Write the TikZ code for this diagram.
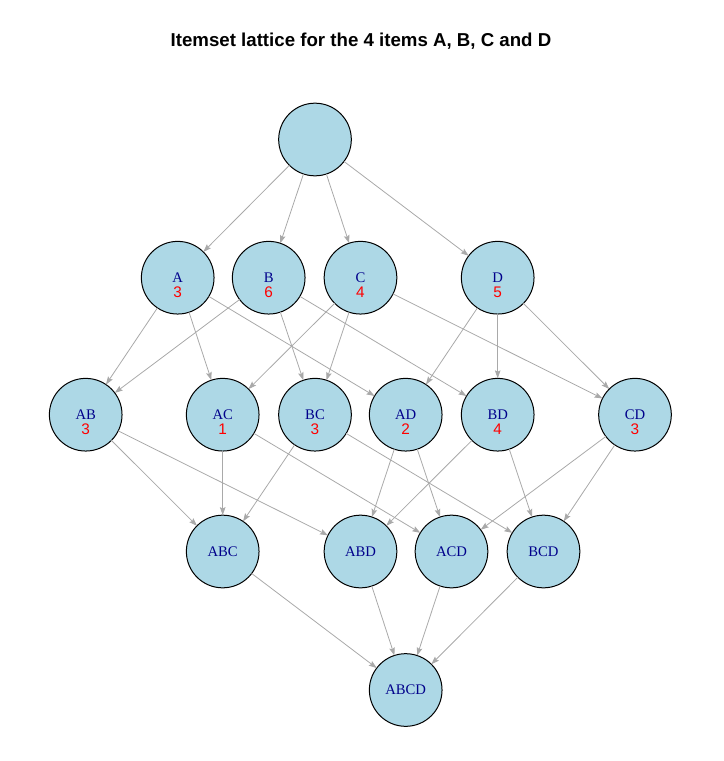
\documentclass[tikz,border=0pt]{standalone}
\usepackage{fontspec}
\setmainfont{Liberation Serif}
\setsansfont{Liberation Sans}
\usetikzlibrary{arrows.meta}
\definecolor{nodeblue}{RGB}{173, 216, 230}
\definecolor{labelblue}{RGB}{0, 0, 139}
\definecolor{edgegray}{RGB}{169, 169, 169}

\tikzset{
  itemset/.style={circle, draw=black, line width=0.75pt, fill=nodeblue, minimum size=54.5pt, inner sep=0pt, outer sep=0pt, text=labelblue, font=\fontsize{11}{13}\selectfont},
  support/.style={text=red, font=\sffamily\fontsize{11.5}{13}\selectfont, yshift=-11pt},
  edge/.style={draw=edgegray, line width=0.6pt, -{Stealth[length=6pt, width=4.2pt, inset=1pt]}}
}

\begin{document}
\begin{tikzpicture}[x=0.75pt, y=-0.75pt]
  \useasboundingbox (0, 0) rectangle (724, 761);

  % Title
  \node[font=\sffamily\bfseries\fontsize{14}{16}\selectfont] (title) at (361, 41) {Itemset lattice for the 4 items A, B, C and D};

  % Empty set
  \node[itemset] (root) at (315, 139.5) {};

  % 1-itemsets
  \node[itemset, label={[support]center:3}] (A) at (177.7, 277.7) {A};
  \node[itemset, label={[support]center:6}] (B) at (268.7, 277.7) {B};
  \node[itemset, label={[support]center:4}] (C) at (360.5, 277.7) {C};
  \node[itemset, label={[support]center:5}] (D) at (497.7, 277.7) {D};

  % 2-itemsets
  \node[itemset, label={[support]center:3}] (AB) at (85.7, 414.7) {AB};
  \node[itemset, label={[support]center:1}] (AC) at (222.7, 414.7) {AC};
  \node[itemset, label={[support]center:3}] (BC) at (315, 414.7) {BC};
  \node[itemset, label={[support]center:2}] (AD) at (405.7, 414.7) {AD};
  \node[itemset, label={[support]center:4}] (BD) at (497.7, 414.7) {BD};
  \node[itemset, label={[support]center:3}] (CD) at (635, 414.7) {CD};

  % 3-itemsets
  \node[itemset] (ABC) at (222.7, 551.5) {ABC};
  \node[itemset] (ABD) at (360.5, 551.5) {ABD};
  \node[itemset] (ACD) at (451.5, 551.5) {ACD};
  \node[itemset] (BCD) at (543.5, 551.5) {BCD};

  % 4-itemset
  \node[itemset] (ABCD) at (405.7, 690) {ABCD};

  % Edges from the empty set
  \draw[edge] (root) -- (A);
  \draw[edge] (root) -- (B);
  \draw[edge] (root) -- (C);
  \draw[edge] (root) -- (D);

  % Edges to 2-itemsets
  \draw[edge] (A) -- (AB);
  \draw[edge] (A) -- (AC);
  \draw[edge] (A) -- (AD);
  \draw[edge] (B) -- (AB);
  \draw[edge] (B) -- (BC);
  \draw[edge] (B) -- (BD);
  \draw[edge] (C) -- (AC);
  \draw[edge] (C) -- (BC);
  \draw[edge] (C) -- (CD);
  \draw[edge] (D) -- (AD);
  \draw[edge] (D) -- (BD);
  \draw[edge] (D) -- (CD);

  % Edges to 3-itemsets
  \draw[edge] (AB) -- (ABC);
  \draw[edge] (AB) -- (ABD);
  \draw[edge] (AC) -- (ABC);
  \draw[edge] (AC) -- (ACD);
  \draw[edge] (BC) -- (ABC);
  \draw[edge] (BC) -- (BCD);
  \draw[edge] (AD) -- (ABD);
  \draw[edge] (AD) -- (ACD);
  \draw[edge] (BD) -- (ABD);
  \draw[edge] (BD) -- (BCD);
  \draw[edge] (CD) -- (ACD);
  \draw[edge] (CD) -- (BCD);

  % Edges to the full itemset
  \draw[edge] (ABC) -- (ABCD);
  \draw[edge] (ABD) -- (ABCD);
  \draw[edge] (ACD) -- (ABCD);
  \draw[edge] (BCD) -- (ABCD);
\end{tikzpicture}
\end{document}
